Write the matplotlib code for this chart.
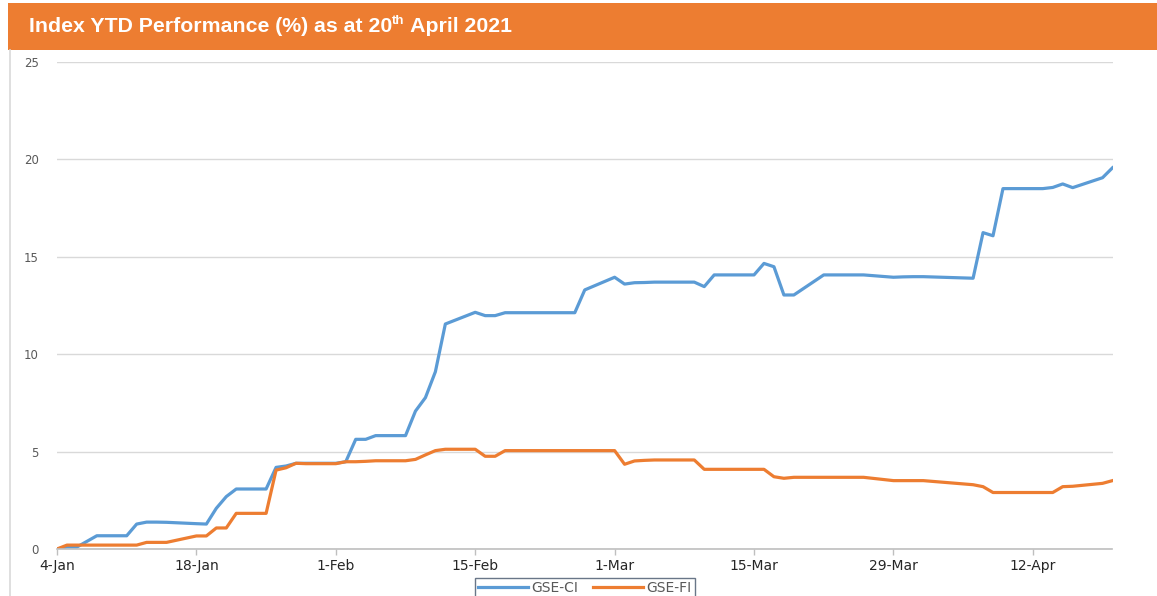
import matplotlib
matplotlib.use("Agg")
import matplotlib.pyplot as plt
import pandas as pd
from matplotlib.lines import Line2D

# ---- data ----
dates = [
    "2021-01-04", "2021-01-05", "2021-01-06", "2021-01-08", "2021-01-11", "2021-01-12", "2021-01-13",
    "2021-01-14", "2021-01-15", "2021-01-18", "2021-01-19", "2021-01-20", "2021-01-21", "2021-01-22",
    "2021-01-25", "2021-01-26", "2021-01-27", "2021-01-28", "2021-01-29",
    "2021-02-01", "2021-02-02", "2021-02-03", "2021-02-04", "2021-02-05", "2021-02-08", "2021-02-09",
    "2021-02-10", "2021-02-11", "2021-02-12", "2021-02-15", "2021-02-16", "2021-02-17", "2021-02-18",
    "2021-02-19", "2021-02-22", "2021-02-23", "2021-02-24", "2021-02-25", "2021-02-26",
    "2021-03-01", "2021-03-02", "2021-03-03", "2021-03-04", "2021-03-05", "2021-03-09", "2021-03-10",
    "2021-03-11", "2021-03-12", "2021-03-15", "2021-03-16", "2021-03-17", "2021-03-18", "2021-03-19",
    "2021-03-22", "2021-03-23", "2021-03-24", "2021-03-25", "2021-03-26", "2021-03-29", "2021-03-30",
    "2021-03-31", "2021-04-01", "2021-04-06", "2021-04-07", "2021-04-08", "2021-04-09", "2021-04-12",
    "2021-04-13", "2021-04-14", "2021-04-15", "2021-04-16", "2021-04-19", "2021-04-20",
]
gse_ci = [
    0.00, 0.10, 0.10, 0.68, 0.68, 1.28, 1.38,
    1.38, 1.37, 1.30, 1.28, 2.09, 2.69, 3.08,
    3.08, 4.19, 4.26, 4.40, 4.40,
    4.40, 4.48, 5.63, 5.63, 5.82, 5.82, 7.08,
    7.77, 9.10, 11.55, 12.15, 11.98, 11.98, 12.13,
    12.13, 12.13, 12.13, 12.13, 12.13, 13.30,
    13.95, 13.60, 13.67, 13.68, 13.70, 13.70, 13.47,
    14.07, 14.07, 14.07, 14.66, 14.49, 13.04, 13.04,
    14.07, 14.07, 14.07, 14.07, 14.07, 13.95, 13.97,
    13.98, 13.98, 13.90, 16.24, 16.08, 18.50, 18.50,
    18.50, 18.56, 18.74, 18.55, 19.06, 19.57,
]
gse_fi = [
    0.00, 0.20, 0.20, 0.20, 0.20, 0.20, 0.34,
    0.34, 0.34, 0.67, 0.67, 1.08, 1.08, 1.83,
    1.83, 4.05, 4.17, 4.40, 4.38,
    4.38, 4.48, 4.48, 4.50, 4.53, 4.53, 4.60,
    4.83, 5.05, 5.12, 5.12, 4.76, 4.76, 5.05,
    5.05, 5.05, 5.05, 5.05, 5.05, 5.05,
    5.05, 4.35, 4.52, 4.55, 4.57, 4.57, 4.09,
    4.09, 4.09, 4.09, 4.09, 3.71, 3.63, 3.68,
    3.68, 3.68, 3.68, 3.68, 3.68, 3.51, 3.51,
    3.51, 3.51, 3.30, 3.20, 2.90, 2.90, 2.90,
    2.90, 2.90, 3.20, 3.22, 3.37, 3.51,
]
series_names = ["GSE-CI", "GSE-FI"]
tick_dates = ["2021-01-04", "2021-01-18", "2021-02-01", "2021-02-15",
              "2021-03-01", "2021-03-15", "2021-03-29", "2021-04-12"]
tick_labels = ["4-Jan", "18-Jan", "1-Feb", "15-Feb", "1-Mar", "15-Mar", "29-Mar", "12-Apr"]
y_ticks = [0, 5, 10, 15, 20, 25]
title_main = "Index YTD Performance (%) as at 20"
title_sup = "th"
title_end = " April 2021"

# ---- drawing ----
W, H = 1157, 596
fig = plt.figure(figsize=(W / 100, H / 100), dpi=100)
fig.patch.set_facecolor("white")

blue = "#5B9BD5"
orange = "#ED7D31"

# title banner
banner = plt.Rectangle((8 / W, 1 - 49.5 / H), 1 - 8 / W, 46.5 / H, transform=fig.transFigure,
                       facecolor=orange, edgecolor="none", zorder=0)
fig.patches.append(banner)
# left border line of chart box
fig.add_artist(Line2D([9.5 / W, 9.5 / W], [0, 1 - 50 / H], transform=fig.transFigure,
                      color="#d9d9d9", lw=1.2))

ax = fig.add_axes([57 / W, 1 - 549 / H, (1112.5 - 57) / W, (549 - 62) / H])
x = pd.to_datetime(dates)
ax.plot(x, gse_ci, color=blue, lw=2.3, label=series_names[0], solid_joinstyle="round")
ax.plot(x, gse_fi, color=orange, lw=2.3, label=series_names[1], solid_joinstyle="round")

ax.set_xlim(pd.Timestamp(dates[0]), pd.Timestamp(dates[-1]))
ax.set_ylim(0, 25)
ax.set_yticks(y_ticks)
ax.set_yticklabels([str(v) for v in y_ticks])
ax.set_xticks(pd.to_datetime(tick_dates))
ax.set_xticklabels(tick_labels)

ax.grid(axis="y", color="#d9d9d9", lw=1)
ax.set_axisbelow(True)
for s in ["top", "right", "left"]:
    ax.spines[s].set_visible(False)
ax.spines["bottom"].set_color("#bfbfbf")
ax.spines["bottom"].set_linewidth(1.2)
ax.tick_params(axis="y", length=0, pad=13, labelsize=8.5, labelcolor="#595959")
ax.tick_params(axis="x", length=4, width=1, color="#bfbfbf", pad=3.5, labelsize=10,
               labelcolor="#262626")

leg = ax.legend(loc="upper center", bbox_to_anchor=(0.5, -0.045), ncol=2, frameon=True,
                fancybox=False, fontsize=10, handlelength=3.6, handletextpad=0.25,
                columnspacing=1.1, borderpad=0.2, labelcolor="#595959",
                borderaxespad=0.5)
leg.get_frame().set_edgecolor("#44546A")
leg.get_frame().set_linewidth(1.0)

# title with superscript
tfont = dict(family="Liberation Sans", weight="bold", color="white")
ty = 1 - 26.5 / H
t1 = fig.text(29 / W, ty, title_main, fontsize=15.3, va="center", ha="left", **tfont)
fig.canvas.draw()
r = fig.canvas.get_renderer()
bb = t1.get_window_extent(r)
t2 = fig.text(bb.x1 / W, ty + 5 / H, title_sup, fontsize=9.5, va="center", ha="left", **tfont)
bb2 = t2.get_window_extent(r)
fig.text(bb2.x1 / W, ty, title_end, fontsize=15.3, va="center", ha="left", **tfont)

fig.savefig("out.png", dpi=100, facecolor="white")
